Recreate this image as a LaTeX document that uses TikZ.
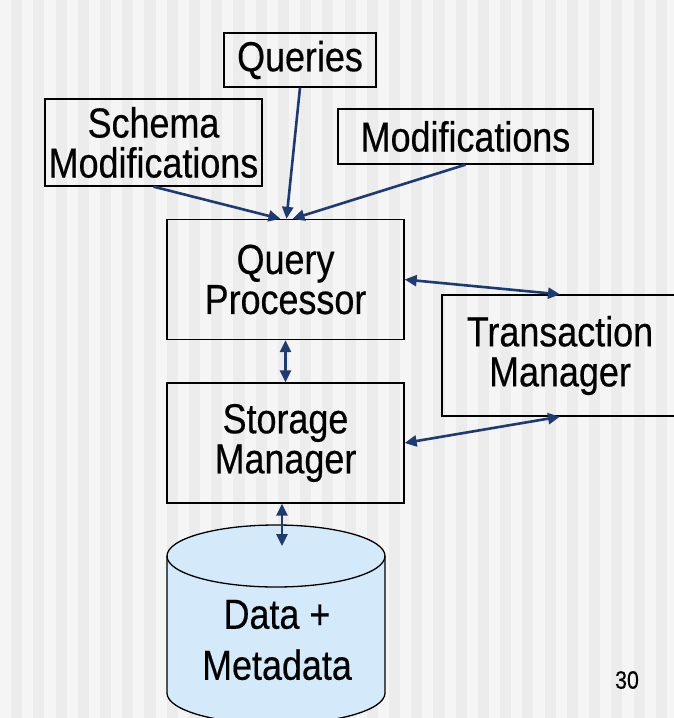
\documentclass[tikz,border=0pt]{standalone}
\usepackage{fontspec}
\setmainfont[FakeStretch=0.855,FakeBold=0.4]{Liberation Sans}
\usetikzlibrary{arrows.meta}
\definecolor{stripelight}{RGB}{245,245,245}
\definecolor{stripedark}{RGB}{236,236,236}
\definecolor{arrowblue}{RGB}{31,58,110}
\definecolor{dbfill}{RGB}{212,233,250}
\tikzset{
  box/.style={draw=black, line width=1.3pt, align=center, inner sep=0pt,
    font=\fontsize{42}{40}\selectfont},
  link/.style={draw=arrowblue, line width=2.6pt, -{Triangle[length=12pt,width=11pt]}},
  dlink/.style={draw=arrowblue, line width=2.6pt,
    {Triangle[length=12pt,width=11pt]}-{Triangle[length=12pt,width=11pt]}},
}
\begin{document}
\begin{tikzpicture}[x=1pt,y=-1pt]
\useasboundingbox (0,0) rectangle (674,718);
\clip (0,0) rectangle (674,718);
\fill[stripelight] (0,0) rectangle (674,718);
\foreach \k in {0,...,30} \fill[stripedark] ({11.1+22.23*\k},0) rectangle ({22.2+22.23*\k},718);

% boxes
\node[box, minimum width=152pt, minimum height=54pt] (queries) at (300,60) {Queries};
\node[box, minimum width=217pt, minimum height=87pt] (schema) at (153.5,142.5) {Schema\\Modifications};
\node[box, minimum width=255pt, minimum height=55pt] (mods) at (465.5,136.5) {Modifications};
\node[box, minimum width=237pt, minimum height=120pt] (qp) at (285.5,279.5) {Query\\Processor};
\node[box, minimum width=237pt, minimum height=120pt] (sm) at (285.5,443) {Storage\\Manager};
\node[box, minimum width=236pt, minimum height=121pt] (tm) at (560,355.5) {Transaction\\Manager};

% database cylinder
\filldraw[fill=dbfill, draw=black, line width=1.3pt]
  (167,556) -- (167,693) arc[start angle=180, end angle=360, x radius=109pt, y radius=31pt]
  -- (385,556) arc[start angle=0, end angle=180, x radius=109pt, y radius=31pt] -- cycle;
\draw[black, line width=1.3pt] (167,556) arc[start angle=180, end angle=360, x radius=109pt, y radius=31pt];
\node[font=\fontsize{42}{51}\selectfont, align=center, inner sep=0pt] (db) at (277,640) {Data +\\Metadata};
\coordinate (dbtop) at (282,546);

% connectors
\draw[link] (schema.south) -- ([xshift=-5pt]qp.north);
\draw[link] (queries.south) -- ([xshift=1pt]qp.north);
\draw[link] (mods.south) -- ([xshift=7pt]qp.north);
\draw[dlink] (qp.east) -- (tm.north);
\draw[dlink] (sm.east) -- (tm.south);
\draw[dlink] (qp.south) -- (sm.north);
\draw[dlink] (sm.south -| dbtop) -- (dbtop);

% page number
\node[font=\fontsize{25}{25}\selectfont, inner sep=0pt] (pagenum) at (627,680) {30};
\end{tikzpicture}
\end{document}
